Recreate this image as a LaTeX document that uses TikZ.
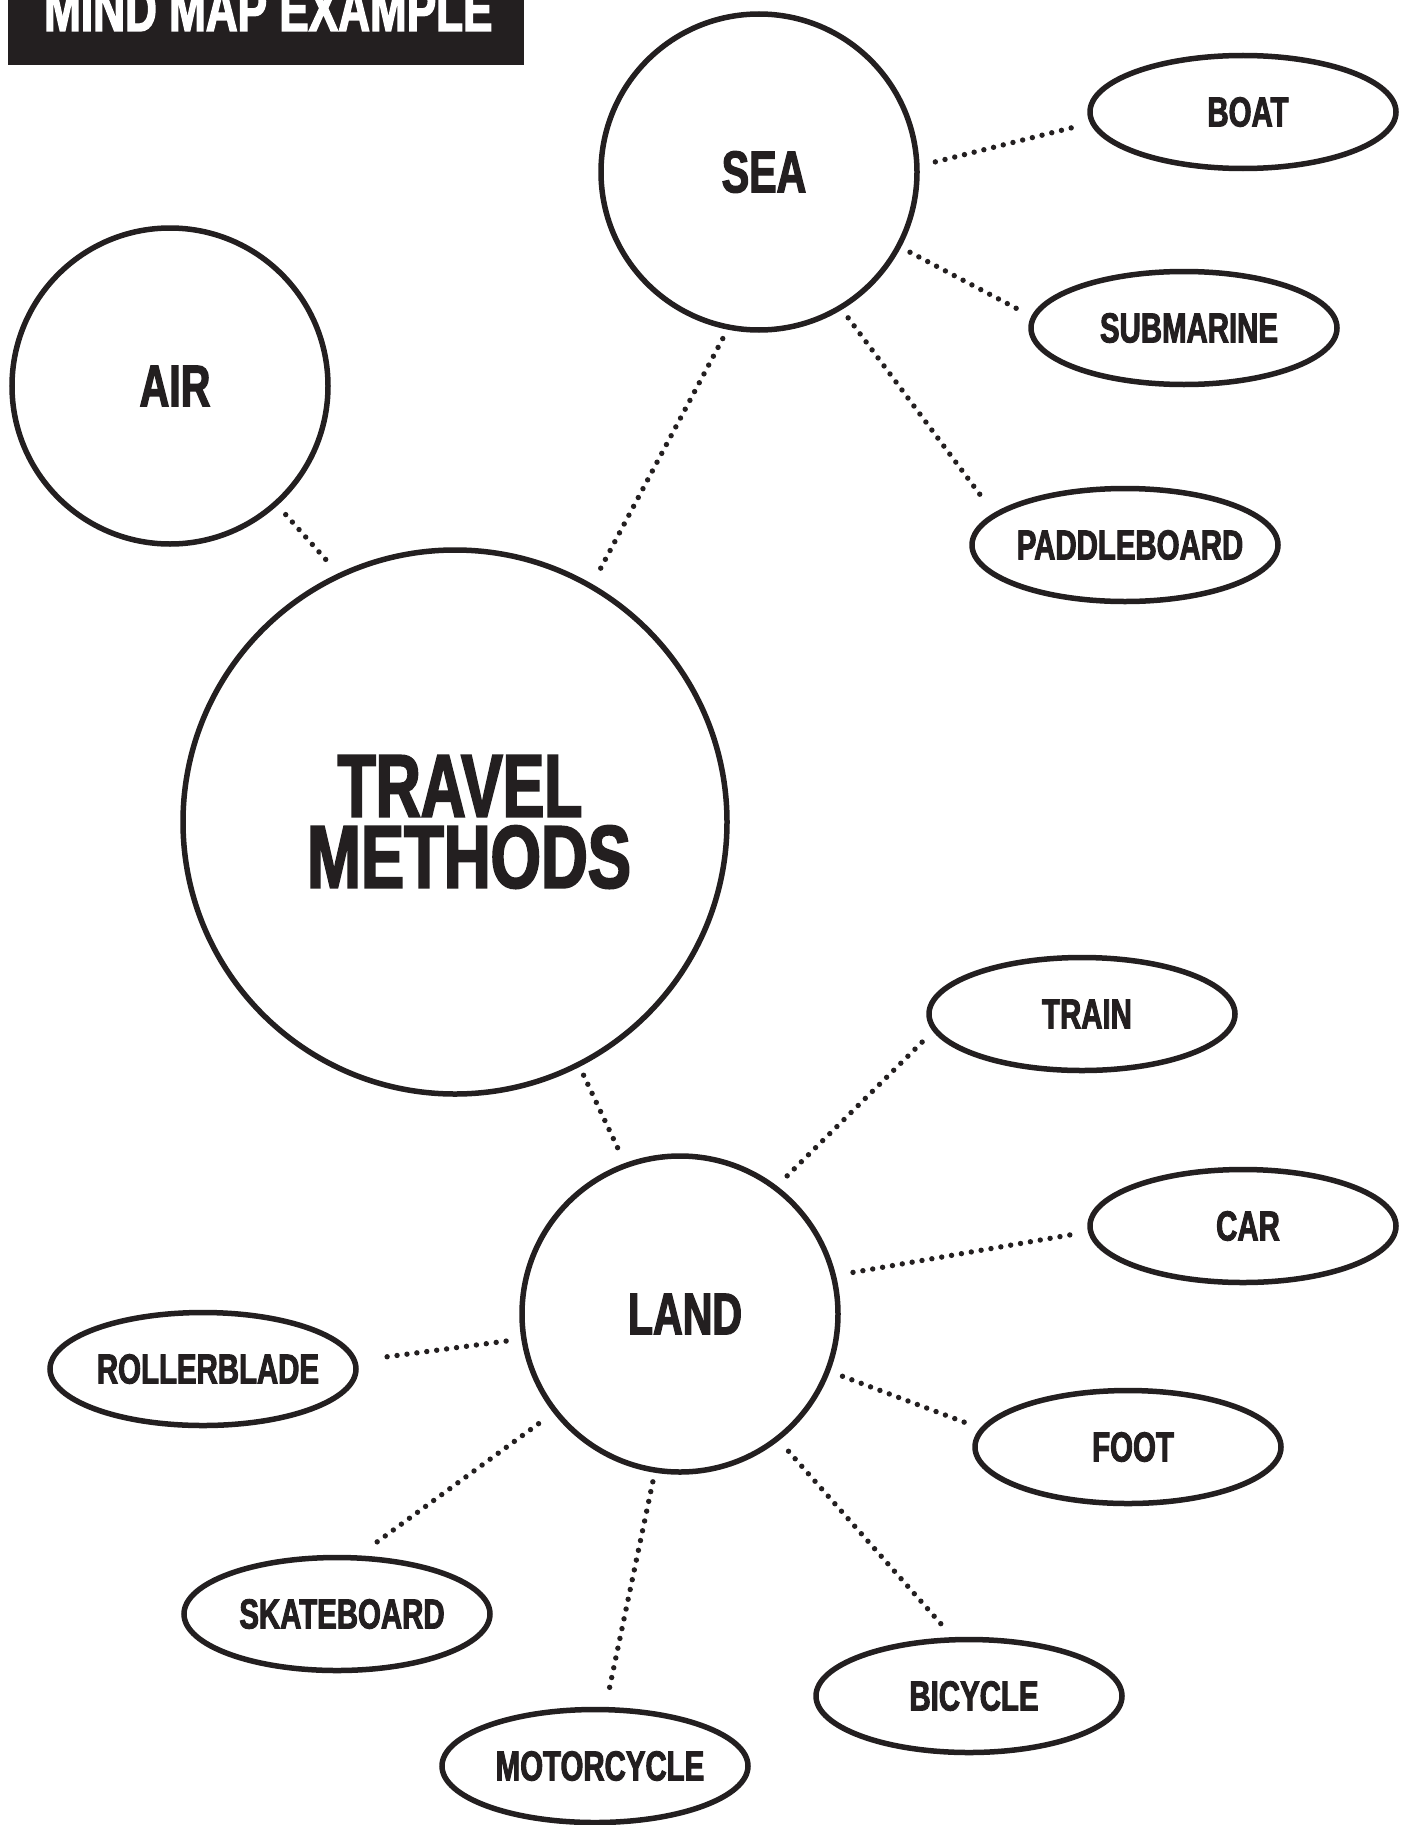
\documentclass[tikz,border=0pt]{standalone}
\usepackage{fontspec}
\usepackage{graphicx}
\usetikzlibrary{shapes.geometric}
\newfontfamily\cond{Liberation Sans}[FakeStretch=0.70,FakeBold=2.2]
\definecolor{ink}{HTML}{231F20}
\tikzset{
  bubble/.style={circle, draw=ink, fill=white, line width=5.5pt, inner sep=0pt, outer sep=0pt,
    minimum size=316pt, text=ink, font=\cond\bfseries\fontsize{58.7}{60}\selectfont},
  leaf/.style={ellipse, draw=ink, fill=white, line width=5.5pt, inner sep=0pt, outer sep=0pt,
    minimum width=306pt, minimum height=113pt, text=ink, font=\cond\bfseries\fontsize{42}{44}\selectfont},
  conn/.style={draw=ink, line width=5.4pt, line cap=round, dash pattern=on 0pt off 10pt}
}
\newcommand{\lbl}[1]{\makebox[0pt][c]{\hspace{10pt}#1}}
\begin{document}
\begin{tikzpicture}[x=1pt,y=-1pt]
\useasboundingbox (0,0) rectangle (1408,1825);
\clip (0,0) rectangle (1408,1825);
% title
\fill[ink] (8,-30) rectangle (524,65);
\node[anchor=base west, inner sep=0pt, text=white, font=\cond\bfseries\fontsize{63}{64}\selectfont] (title) at (44,31) {MIND MAP EXAMPLE};
% main nodes
\node[bubble, minimum size=544pt, align=center, font=\cond\bfseries\fontsize{89}{71}\selectfont] (travel) at (455,822) {\lbl{TRAVEL}\\\lbl{\hspace{18pt}\scalebox{1.04}[1]{METHODS}}};
\node[bubble] (sea) at (759,172) {\lbl{SEA}};
\node[bubble] (air) at (170,386) {\lbl{AIR}};
\node[bubble] (land) at (680,1314) {\lbl{LAND}};
% leaves
\node[leaf] (boat) at (1243,112) {\lbl{BOAT}};
\node[leaf] (sub) at (1184,328) {\lbl{SUBMARINE}};
\node[leaf] (paddle) at (1125,545) {\lbl{PADDLEBOARD}};
\node[leaf] (train) at (1082,1014) {\lbl{TRAIN}};
\node[leaf] (car) at (1243,1226) {\lbl{CAR}};
\node[leaf] (foot) at (1128,1447) {\lbl{FOOT}};
\node[leaf] (bicycle) at (969,1696) {\lbl{BICYCLE}};
\node[leaf] (motorcycle) at (595,1766) {\lbl{MOTORCYCLE}};
\node[leaf] (skateboard) at (337,1614) {\lbl{SKATEBOARD}};
\node[leaf] (rollerblade) at (203,1369) {\lbl{ROLLERBLADE}};
% connectors
\draw[conn, shorten <=19pt, shorten >=14pt] (sea.2) -- (boat.184);
\draw[conn, shorten <=13pt, shorten >=11pt] (sea.-28) -- (sub.176);
\draw[conn, shorten <=13pt, shorten >=17pt] (sea.-59) -- (paddle.167);
\draw[conn, shorten <=13pt, shorten >=13pt] (sea.-101) -- (travel.60);
\draw[conn, shorten <=15pt, shorten >=17pt] (air.-48) -- (travel.115);
\draw[conn, shorten <=12pt, shorten >=14pt] (travel.-63) -- (land.110);
\draw[conn, shorten <=17pt, shorten >=17pt] (land.53) -- (train.186);
\draw[conn, shorten <=20pt, shorten >=15pt] (land.14) -- (car.182);
\draw[conn, shorten <=16pt, shorten >=13pt] (land.-21) -- (foot.173);
\draw[conn, shorten <=17pt, shorten >=15pt] (land.-52) -- (bicycle.104);
\draw[conn, shorten <=12pt, shorten >=13pt] (land.-99) -- (motorcycle.80);
\draw[conn, shorten <=21pt, shorten >=21pt] (land.218) -- (skateboard.72);
\draw[conn, shorten <=18pt, shorten >=25pt] (land.189) -- (rollerblade.3);
\end{tikzpicture}
\end{document}
